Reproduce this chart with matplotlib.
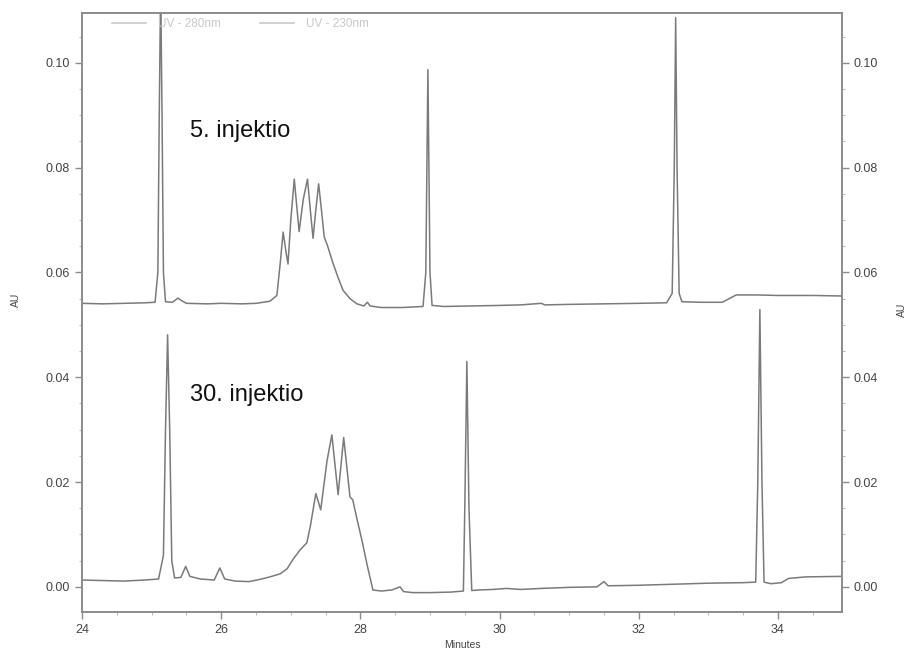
import matplotlib
matplotlib.use("Agg")
import matplotlib.pyplot as plt
from matplotlib.lines import Line2D
from matplotlib.ticker import AutoMinorLocator

plt.rcParams["font.family"] = ["Liberation Sans", "DejaVu Sans"]

# 5. injektio trace (minutes, AU)
t_inj5 = [24.00, 24.30, 24.60, 24.90, 25.05, 25.09, 25.11, 25.13, 25.15, 25.17,
          25.20, 25.30, 25.38, 25.42, 25.50, 25.80, 26.00, 26.30, 26.50, 26.70,
          26.80, 26.85, 26.89, 26.93, 26.96, 27.00, 27.05, 27.09, 27.12, 27.18,
          27.24, 27.28, 27.32, 27.36, 27.40, 27.44, 27.48, 27.53, 27.60, 27.68,
          27.75, 27.85, 27.95, 28.05, 28.10, 28.14, 28.30, 28.60, 28.90, 28.94,
          28.97, 29.00, 29.03, 29.20, 29.60, 30.00, 30.30, 30.60, 30.65, 31.00,
          31.50, 32.00, 32.40, 32.48, 32.51, 32.53, 32.55, 32.58, 32.62, 32.90,
          33.20, 33.30, 33.40, 33.70, 34.00, 34.50, 34.92]
au_inj5 = [0.0541, 0.0540, 0.0541, 0.0542, 0.0543, 0.0600, 0.0900, 0.1150, 0.0900, 0.0600,
           0.0544, 0.0543, 0.0551, 0.0547, 0.0541, 0.0540, 0.0541, 0.0540, 0.0541, 0.0545,
           0.0556, 0.0620, 0.0677, 0.0640, 0.0616, 0.0700, 0.0778, 0.0720, 0.0678, 0.0740,
           0.0778, 0.0720, 0.0665, 0.0720, 0.0769, 0.0720, 0.0668, 0.0650, 0.0620, 0.0590,
           0.0566, 0.0550, 0.0540, 0.0536, 0.0543, 0.0536, 0.0533, 0.0533, 0.0535, 0.0600,
           0.0987, 0.0600, 0.0537, 0.0535, 0.0536, 0.0537, 0.0538, 0.0541, 0.0538, 0.0539,
           0.0540, 0.0541, 0.0542, 0.0560, 0.0800, 0.1086, 0.0800, 0.0560, 0.0544, 0.0543,
           0.0543, 0.0550, 0.0557, 0.0557, 0.0556, 0.0556, 0.0555]

# 30. injektio trace
t_inj30 = [24.00, 24.30, 24.60, 24.90, 25.10, 25.17, 25.20, 25.23, 25.26, 25.29,
           25.33, 25.42, 25.49, 25.55, 25.70, 25.90, 25.98, 26.05, 26.20, 26.40,
           26.55, 26.70, 26.85, 26.95, 27.03, 27.13, 27.23, 27.28, 27.36, 27.43,
           27.52, 27.59, 27.68, 27.76, 27.85, 27.89, 27.95, 28.02, 28.10, 28.18,
           28.30, 28.45, 28.57, 28.62, 28.75, 29.00, 29.30, 29.48, 29.50, 29.53,
           29.56, 29.60, 29.70, 29.90, 30.10, 30.30, 30.60, 31.00, 31.40, 31.50,
           31.56, 32.00, 32.50, 33.00, 33.50, 33.68, 33.71, 33.74, 33.77, 33.80,
           33.90, 34.05, 34.15, 34.40, 34.92]
au_inj30 = [0.0013, 0.0012, 0.0011, 0.0013, 0.0015, 0.0060, 0.0300, 0.0481, 0.0300, 0.0050,
            0.0017, 0.0018, 0.0039, 0.0020, 0.0015, 0.0013, 0.0036, 0.0015, 0.0011, 0.0010,
            0.0014, 0.0019, 0.0025, 0.0035, 0.0052, 0.0070, 0.0084, 0.0115, 0.0178, 0.0147,
            0.0240, 0.0290, 0.0176, 0.0285, 0.0172, 0.0166, 0.0130, 0.0090, 0.0040, -0.0006,
            -0.0008, -0.0006, 0.0000, -0.0009, -0.0011, -0.0011, -0.0010, -0.0008, 0.0150, 0.0430,
            0.0150, -0.0007, -0.0006, -0.0005, -0.0003, -0.0005, -0.0003, -0.0001, 0.0000, 0.0010,
            0.0002, 0.0003, 0.0005, 0.0007, 0.0008, 0.0009, 0.0200, 0.0529, 0.0200, 0.0009,
            0.0006, 0.0008, 0.0016, 0.0019, 0.0020]

x_ticks = [24, 26, 28, 30, 32, 34]
y_ticks = [0.00, 0.02, 0.04, 0.06, 0.08, 0.10]
legend_labels = ["UV - 280nm", "UV - 230nm"]

trace_col = "#7a7a7a"
spine_col = "#8c8c8c"
label_col = "#444444"

fig = plt.figure(figsize=(9.12, 6.52), dpi=100)
ax = fig.add_axes([82 / 912, 1 - 612 / 652, 760 / 912, 599 / 652])

ax.plot(t_inj5, au_inj5, color=trace_col, lw=1.1)
ax.plot(t_inj30, au_inj30, color=trace_col, lw=1.1)

ax.set_xlim(24, 34.92)
ax.set_ylim(-0.0048, 0.1095)
ax.set_xticks(x_ticks)
ax.set_xticklabels([str(v) for v in x_ticks])
ax.set_yticks(y_ticks)
ax.set_yticklabels([f"{v:.2f}" for v in y_ticks])
ax.xaxis.set_minor_locator(AutoMinorLocator(4))
ax.yaxis.set_minor_locator(AutoMinorLocator(4))

ax2 = ax.twinx()
ax2.set_ylim(ax.get_ylim())
ax2.set_yticks(y_ticks)
ax2.set_yticklabels([f"{v:.2f}" for v in y_ticks])
ax2.yaxis.set_minor_locator(AutoMinorLocator(4))

for a in (ax, ax2):
    for s in a.spines.values():
        s.set_color(spine_col)
        s.set_linewidth(1.2)
    a.tick_params(which="major", length=5, width=1, color=spine_col,
                  labelsize=9, labelcolor=label_col, direction="out")
    a.tick_params(which="minor", length=2.5, width=0.8, color="#bbbbbb", direction="out")

ax.set_xlabel("Minutes", fontsize=7.5, color=label_col, labelpad=3)
# AU labels on both sides, placed in figure pixels
fig.text(16 / 912, 1 - 300 / 652, "AU", rotation=90, fontsize=7.5, color=label_col,
         ha="center", va="center")
fig.text(902 / 912, 1 - 310 / 652, "AU", rotation=90, fontsize=7.5, color=label_col,
         ha="center", va="center")

ax.text(25.55, 0.087, "5. injektio", fontsize=17, va="center", ha="left", color="#111111")
ax.text(25.55, 0.0366, "30. injektio", fontsize=17, va="center", ha="left", color="#111111")

handles = [Line2D([0], [0], color="#c8c8c8", lw=1.2) for _ in legend_labels]
leg = ax.legend(handles, legend_labels, loc="upper left", bbox_to_anchor=(0.025, 1.01),
                ncol=2, frameon=False, fontsize=8.5, handlelength=2.9,
                handletextpad=1.0, columnspacing=3.3)
for txt in leg.get_texts():
    txt.set_color("#c8c8c8")

fig.savefig("out.png", dpi=100)
